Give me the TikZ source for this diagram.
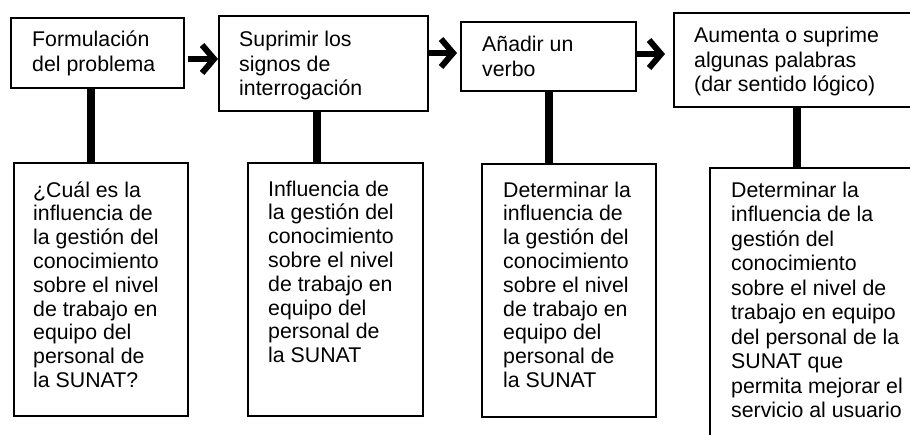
\documentclass[tikz,border=0pt]{standalone}
\usepackage{fontspec}
\setmainfont{Liberation Sans}
\usetikzlibrary{arrows.meta}
\newcommand{\mlines}[1]{\begin{tabular}[t]{@{}l@{}}#1\end{tabular}}
\begin{document}
\begin{tikzpicture}[x=1pt,y=-1pt,
  box/.style={draw, line width=1.7pt, anchor=north west, inner sep=0pt},
  txt/.style={anchor=base west, inner sep=0pt, font=\fontsize{21.3}{24.5}\selectfont},
  txtb/.style={anchor=base west, inner sep=0pt, font=\fontsize{21.3}{23.8}\selectfont},
  conn/.style={line width=7.5pt},
  flow/.style={line width=6pt, -{Straight Barb[length=12pt,width=28pt]}}]
\useasboundingbox (0,0) rectangle (910,434);
\clip (0,0) rectangle (910,434);
% top boxes
\node[box, minimum width=173pt, minimum height=70pt] (b1) at (10,17) {};
\node[box, minimum width=209pt, minimum height=95pt] (b2) at (218,15) {};
\node[box, minimum width=175pt, minimum height=69pt] (b3) at (460,21) {};
\node[box, minimum width=260pt, minimum height=94pt] (b4) at (673,12) {};
% bottom boxes
\node[box, minimum width=174pt, minimum height=253pt] (bb1) at (13,162) {};
\node[box, minimum width=175pt, minimum height=253pt] (bb2) at (247,162) {};
\node[box, minimum width=174pt, minimum height=253pt] (bb3) at (481,163) {};
\node[box, minimum width=260pt, minimum height=300pt] (bb4) at (709,167) {};
% texts
\node[txt] (t1) at (32,46.7) {\mlines{Formulación\\del problema}};
\node[txt] (t2) at (239,46.7) {\mlines{Suprimir los\\signos de\\interrogación}};
\node[txt] (t3) at (482,51.7) {\mlines{Añadir un\\verbo}};
\node[txt] (t4) at (694,42.7) {\mlines{Aumenta o suprime\\algunas palabras\\(dar sentido lógico)}};
\node[txtb] (u1) at (33,197) {\mlines{¿Cuál es la\\influencia de\\la gestión del\\conocimiento\\sobre el nivel\\de trabajo en\\equipo del\\personal de\\la SUNAT?}};
\node[txtb] (u2) at (268,196) {\mlines{Influencia de\\la gestión del\\conocimiento\\sobre el nivel\\de trabajo en\\equipo del\\personal de\\la SUNAT}};
\node[txtb] (u3) at (503,197) {\mlines{Determinar la\\influencia de\\la gestión del\\conocimiento\\sobre el nivel\\de trabajo en\\equipo del\\personal de\\la SUNAT}};
\node[txt] (u4) at (731,197) {\mlines{Determinar la\\influencia de la\\gestión del\\conocimiento\\sobre el nivel de\\trabajo en equipo\\del personal de la\\SUNAT que\\permita mejorar el\\servicio al usuario}};
% vertical connectors
\coordinate (x1) at (91,0);
\coordinate (x2) at (317,0);
\coordinate (x3) at (549,0);
\coordinate (x4) at (797,0);
\draw[conn] (x1 |- b1.south) -- (x1 |- bb1.north);
\draw[conn] (x2 |- b2.south) -- (x2 |- bb2.north);
\draw[conn] (x3 |- b3.south) -- (x3 |- bb3.north);
\draw[conn] (x4 |- b4.south) -- (x4 |- bb4.north);
% arrows
\coordinate (y1) at (0,59);
\coordinate (y2) at (0,53);
\coordinate (y3) at (0,54);
\draw[flow, shorten <=3pt] (b1.east |- y1) -- (b2.west |- y1);
\draw[flow, shorten >=3pt] (b2.east |- y2) -- (b3.west |- y2);
\draw[flow, shorten >=8pt] (b3.east |- y3) -- (b4.west |- y3);
\end{tikzpicture}
\end{document}
